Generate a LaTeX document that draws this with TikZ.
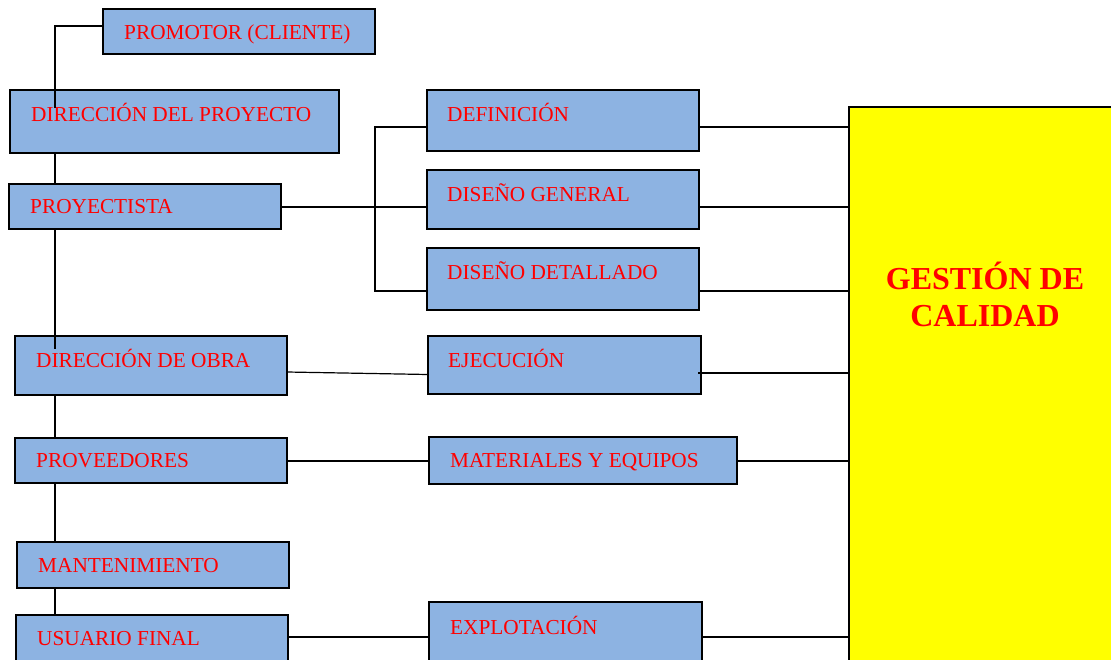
\documentclass[tikz,border=0pt]{standalone}
\usepackage{fontspec}
\setmainfont{Liberation Serif}
\definecolor{boxblue}{RGB}{141,179,226}
\definecolor{gcyellow}{RGB}{255,255,0}
\begin{document}
\begin{tikzpicture}[x=1pt,y=-1pt,
  box/.style={draw=black, line width=1.4pt, fill=boxblue, inner sep=0pt, outer sep=0pt, anchor=north west},
  qbox/.style={draw=black, line width=2.2pt, fill=gcyellow, inner sep=0pt, outer sep=0pt, anchor=north west},
  lbl/.style={anchor=base west, inner sep=0pt, text=red, font=\fontsize{21.3}{24}\selectfont},
  qlbl/.style={anchor=base, inner sep=0pt, text=red, font=\fontsize{32}{35}\selectfont\bfseries},
  link/.style={draw=black, line width=1.2pt}]
\useasboundingbox (0,0) rectangle (1111,659);
\clip (0,0) rectangle (1111,659);

% quality management block
\node[qbox, minimum width=272pt, minimum height=600pt] (gc) at (849,107) {};
\node[qlbl] (gcA) at (985,289) {GESTIÓN DE};
\node[qlbl] (gcB) at (985,326) {CALIDAD};

% agents column
\node[box, minimum width=272pt, minimum height=45pt] (promotor) at (103,9) {};
\node[box, minimum width=329pt, minimum height=63pt] (ddp) at (10,90) {};
\node[box, minimum width=272pt, minimum height=45pt] (proy) at (9,184) {};
\node[box, minimum width=272pt, minimum height=59pt] (dobra) at (15,336) {};
\node[box, minimum width=272pt, minimum height=45pt] (prov) at (15,438) {};
\node[box, minimum width=272pt, minimum height=46pt] (mant) at (17,542) {};
\node[box, minimum width=272pt, minimum height=46pt] (usu) at (16,615) {};

% phases column
\node[box, minimum width=272pt, minimum height=61pt] (defin) at (427,90) {};
\node[box, minimum width=272pt, minimum height=59pt] (dgen) at (427,170) {};
\node[box, minimum width=272pt, minimum height=62pt] (ddet) at (427,248) {};
\node[box, minimum width=273pt, minimum height=58pt] (ejec) at (428,336) {};
\node[box, minimum width=308pt, minimum height=47pt] (mat) at (429,437) {};
\node[box, minimum width=273pt, minimum height=70pt] (expl) at (429,602) {};

% labels
\node[lbl] (promotorT) at (124,39) {PROMOTOR (CLIENTE)};
\node[lbl] (ddpT) at (31,121) {DIRECCIÓN DEL PROYECTO};
\node[lbl] (proyT) at (30,213) {PROYECTISTA};
\node[lbl] (dobraT) at (36,367) {DIRECCIÓN DE OBRA};
\node[lbl] (provT) at (36,467) {PROVEEDORES};
\node[lbl] (mantT) at (38,572) {MANTENIMIENTO};
\node[lbl] (usuT) at (37,645) {USUARIO FINAL};
\node[lbl] (definT) at (447,121) {DEFINICIÓN};
\node[lbl] (dgenT) at (447,201) {DISEÑO GENERAL};
\node[lbl] (ddetT) at (447,279) {DISEÑO DETALLADO};
\node[lbl] (ejecT) at (448,367) {EJECUCIÓN};
\node[lbl] (matT) at (450,467) {MATERIALES Y EQUIPOS};
\node[lbl] (explT) at (450,634) {EXPLOTACIÓN};

% left spine
\coordinate (s1) at (55,108);
\coordinate (s2) at (55,349);
\draw[link] ([yshift=5.5pt]promotor.west) -| (s1);
\draw[link] (ddp.south -| s1) -- (proy.north -| s1);
\draw[link] (proy.south -| s2) -- (s2);
\draw[link] (dobra.south -| s1) -- (prov.north -| s1);
\draw[link] (prov.south -| s1) -- (mant.north -| s1);
\draw[link] (mant.south -| s1) -- (usu.north -| s1);

% design bracket
\coordinate (bt) at (375,127);
\coordinate (bm) at (375,207);
\coordinate (bb) at (375,291);
\draw[link] (defin.west |- bt) -- (bt) -- (bb) -- (ddet.west |- bb);
\draw[link] (proy.east |- bm) -- (dgen.west |- bm);

% agents to phases
\coordinate (m) at (0,461);
\coordinate (u) at (0,637);
\draw[link] ([yshift=-6.5pt]dobra.east) -- ([yshift=-9.5pt]ejec.west);
\draw[link] (prov.east |- m) -- (mat.west |- m);
\draw[link] (usu.east |- u) -- (expl.west |- u);

% phases to quality management
\coordinate (e) at (0,373);
\draw[link] (defin.east |- bt) -- (gc.west |- bt);
\draw[link] (dgen.east |- bm) -- (gc.west |- bm);
\draw[link] (ddet.east |- bb) -- (gc.west |- bb);
\draw[link] ([xshift=-3pt]ejec.east |- e) -- (gc.west |- e);
\draw[link] (mat.east |- m) -- (gc.west |- m);
\draw[link] (expl.east |- u) -- (gc.west |- u);
\end{tikzpicture}
\end{document}
